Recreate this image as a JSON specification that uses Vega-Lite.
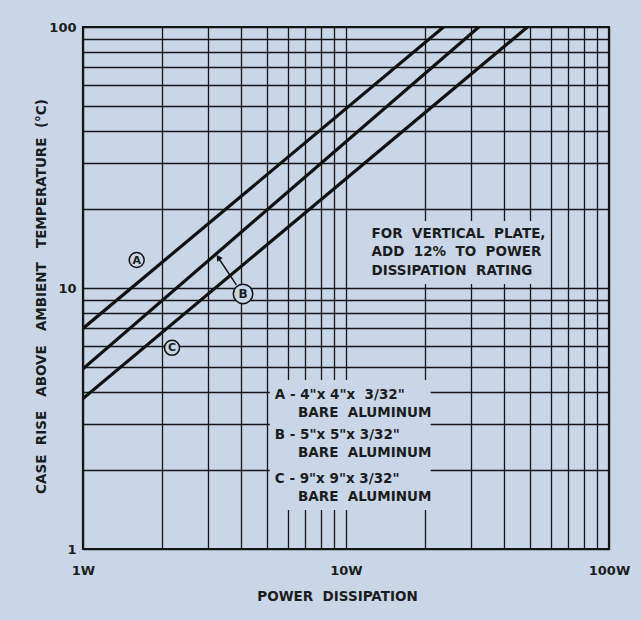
{
  "$schema": "https://vega.github.io/schema/vega-lite/v6.json",
  "width": 526,
  "height": 522,
  "autosize": {"type": "none"},
  "padding": {"left": 83, "top": 27, "right": 32, "bottom": 71},
  "background": "#c8d6e8",
  "config": {
    "view": {"stroke": "#141414", "strokeWidth": 2.2},
    "font": "DejaVu Sans",
    "text": {"font": "DejaVu Sans", "color": "#1c1c1c"}
  },
  "datasets": {
    "curves": [
      {"curve": "A", "power": 1, "rise": 7.0},
      {"curve": "A", "power": 23.5, "rise": 100},
      {"curve": "B", "power": 1, "rise": 4.9},
      {"curve": "B", "power": 32, "rise": 100},
      {"curve": "C", "power": 1, "rise": 3.77},
      {"curve": "C", "power": 49, "rise": 100}
    ]
  },
  "layer": [
    {
      "data": {"name": "curves"},
      "mark": {"type": "line", "color": "#111111", "strokeWidth": 3.2, "clip": true},
      "encoding": {
        "x": {
          "field": "power", "type": "quantitative",
          "scale": {"type": "log", "domain": [1, 100]},
          "axis": {
            "values": [1, 2, 3, 4, 5, 6, 7, 8, 9, 10, 20, 30, 40, 50, 60, 70, 80, 90, 100],
            "labelExpr": "datum.value == 1 ? '1W' : datum.value == 10 ? '10W' : datum.value == 100 ? '100W' : ''",
            "labelOverlap": false, "labelFlush": false,
            "grid": true, "gridColor": "#161616", "gridWidth": 1.3, "gridOpacity": 1,
            "ticks": false, "domain": false,
            "labelPadding": 15, "labelBaseline": "top", "labelFontSize": 13, "labelFontWeight": "bold", "labelColor": "#1c1c1c",
            "title": "POWER\u00a0\u00a0DISSIPATION",
            "titleFontSize": 13.5, "titleFontWeight": "bold", "titleColor": "#1c1c1c",
            "titleX": 254, "titleY": 47, "titleAlign": "center", "titleBaseline": "middle"
          }
        },
        "y": {
          "field": "rise", "type": "quantitative",
          "scale": {"type": "log", "domain": [1, 100]},
          "axis": {
            "values": [1, 2, 3, 4, 5, 6, 7, 8, 9, 10, 20, 30, 40, 50, 60, 70, 80, 90, 100],
            "labelExpr": "datum.value == 1 ? '1' : datum.value == 10 ? '10' : datum.value == 100 ? '100' : ''",
            "labelOverlap": false, "labelFlush": false,
            "grid": true, "gridColor": "#161616", "gridWidth": 1.3, "gridOpacity": 1,
            "ticks": false, "domain": false,
            "labelPadding": 7, "labelFontSize": 13, "labelFontWeight": "bold", "labelColor": "#1c1c1c",
            "title": "CASE\u00a0\u00a0RISE\u00a0\u00a0\u00a0ABOVE\u00a0\u00a0\u00a0AMBIENT\u00a0\u00a0\u00a0TEMPERATURE\u00a0\u00a0(°C)",
            "titleFontSize": 13.5, "titleFontWeight": "bold", "titleColor": "#1c1c1c",
            "titleX": -42, "titleY": 269, "titleAngle": 270, "titleAlign": "center", "titleBaseline": "middle"
          }
        },
        "detail": {"field": "curve", "type": "nominal"}
      }
    },
    {
      "data": {"values": [{}]},
      "mark": {"type": "rect", "fill": "#c8d6e8", "stroke": null},
      "encoding": {
        "x": {"datum": 11.27, "type": "quantitative"},
        "x2": {"datum": 57},
        "y": {"datum": 18.06, "type": "quantitative"},
        "y2": {"datum": 10.36}
      }
    },
    {
      "data": {"values": [{}]},
      "mark": {"type": "rect", "fill": "#c8d6e8", "stroke": null},
      "encoding": {
        "x": {"datum": 5.13, "type": "quantitative"},
        "x2": {"datum": 21.0},
        "y": {"datum": 4.44, "type": "quantitative"},
        "y2": {"datum": 1.41}
      }
    },
    {
      "data": {"values": [{}]},
      "mark": {"type": "rule", "color": "#111111", "strokeWidth": 1.4},
      "encoding": {
        "x": {"datum": 3.83, "type": "quantitative"},
        "x2": {"datum": 3.28},
        "y": {"datum": 10.27, "type": "quantitative"},
        "y2": {"datum": 13.0}
      }
    },
    {
      "data": {"values": [{}]},
      "mark": {"type": "point", "shape": "triangle-up", "filled": true, "color": "#111111", "size": 45, "angle": 327, "opacity": 1},
      "encoding": {
        "x": {"datum": 3.27, "type": "quantitative"},
        "y": {"datum": 13.1, "type": "quantitative"}
      }
    },
    {
      "data": {"values": [{}]},
      "mark": {"type": "point", "shape": "circle", "filled": true, "fill": "#c8d6e8", "stroke": "#111111", "strokeWidth": 1.5, "size": 225, "opacity": 1},
      "encoding": {
        "x": {"datum": 1.60, "type": "quantitative"},
        "y": {"datum": 12.8, "type": "quantitative"}
      }
    },
    {
      "data": {"values": [{}]},
      "mark": {"type": "point", "shape": "circle", "filled": true, "fill": "#c8d6e8", "stroke": "#111111", "strokeWidth": 1.5, "size": 380, "opacity": 1},
      "encoding": {
        "x": {"datum": 4.06, "type": "quantitative"},
        "y": {"datum": 9.49, "type": "quantitative"}
      }
    },
    {
      "data": {"values": [{}]},
      "mark": {"type": "point", "shape": "circle", "filled": true, "fill": "#c8d6e8", "stroke": "#111111", "strokeWidth": 1.5, "size": 225, "opacity": 1},
      "encoding": {
        "x": {"datum": 2.18, "type": "quantitative"},
        "y": {"datum": 5.90, "type": "quantitative"}
      }
    },
    {
      "data": {"values": [{}]},
      "mark": {"type": "text", "text": "A", "fontSize": 11, "fontWeight": "bold", "align": "center", "baseline": "middle", "dy": 0.5},
      "encoding": {
        "x": {"datum": 1.60, "type": "quantitative"},
        "y": {"datum": 12.8, "type": "quantitative"}
      }
    },
    {
      "data": {"values": [{}]},
      "mark": {"type": "text", "text": "B", "fontSize": 12, "fontWeight": "bold", "align": "center", "baseline": "middle", "dy": 0.5},
      "encoding": {
        "x": {"datum": 4.06, "type": "quantitative"},
        "y": {"datum": 9.49, "type": "quantitative"}
      }
    },
    {
      "data": {"values": [{}]},
      "mark": {"type": "text", "text": "C", "fontSize": 11, "fontWeight": "bold", "align": "center", "baseline": "middle", "dy": 0.5},
      "encoding": {
        "x": {"datum": 2.18, "type": "quantitative"},
        "y": {"datum": 5.90, "type": "quantitative"}
      }
    },
    {
      "data": {"values": [{}]},
      "mark": {"type": "text", "text": ["FOR\u00a0\u00a0VERTICAL\u00a0\u00a0PLATE,", "ADD\u00a0\u00a012%\u00a0\u00a0TO\u00a0\u00a0POWER", "DISSIPATION\u00a0\u00a0RATING"], "fontSize": 13.5, "fontWeight": "bold", "align": "left", "baseline": "top", "lineHeight": 18.5},
      "encoding": {
        "x": {"datum": 12.5, "type": "quantitative"},
        "y": {"datum": 17.2, "type": "quantitative"}
      }
    },
    {
      "data": {"values": [{}]},
      "mark": {"type": "text", "text": "A\u00a0-\u00a04\"x\u00a04\"x\u00a0\u00a03/32\"", "fontSize": 13.5, "fontWeight": "bold", "align": "left", "baseline": "top"},
      "encoding": {
        "x": {"datum": 5.36, "type": "quantitative"},
        "y": {"datum": 4.14, "type": "quantitative"}
      }
    },
    {
      "data": {"values": [{}]},
      "mark": {"type": "text", "text": "BARE\u00a0\u00a0ALUMINUM", "fontSize": 13.5, "fontWeight": "bold", "align": "left", "baseline": "top"},
      "encoding": {
        "x": {"datum": 6.57, "type": "quantitative"},
        "y": {"datum": 3.53, "type": "quantitative"}
      }
    },
    {
      "data": {"values": [{}]},
      "mark": {"type": "text", "text": "B\u00a0-\u00a05\"x\u00a05\"x\u00a03/32\"", "fontSize": 13.5, "fontWeight": "bold", "align": "left", "baseline": "top"},
      "encoding": {
        "x": {"datum": 5.36, "type": "quantitative"},
        "y": {"datum": 2.91, "type": "quantitative"}
      }
    },
    {
      "data": {"values": [{}]},
      "mark": {"type": "text", "text": "BARE\u00a0\u00a0ALUMINUM", "fontSize": 13.5, "fontWeight": "bold", "align": "left", "baseline": "top"},
      "encoding": {
        "x": {"datum": 6.57, "type": "quantitative"},
        "y": {"datum": 2.49, "type": "quantitative"}
      }
    },
    {
      "data": {"values": [{}]},
      "mark": {"type": "text", "text": "C\u00a0-\u00a09\"x\u00a09\"x\u00a03/32\"", "fontSize": 13.5, "fontWeight": "bold", "align": "left", "baseline": "top"},
      "encoding": {
        "x": {"datum": 5.36, "type": "quantitative"},
        "y": {"datum": 1.98, "type": "quantitative"}
      }
    },
    {
      "data": {"values": [{}]},
      "mark": {"type": "text", "text": "BARE\u00a0\u00a0ALUMINUM", "fontSize": 13.5, "fontWeight": "bold", "align": "left", "baseline": "top"},
      "encoding": {
        "x": {"datum": 6.57, "type": "quantitative"},
        "y": {"datum": 1.68, "type": "quantitative"}
      }
    }
  ]
}
